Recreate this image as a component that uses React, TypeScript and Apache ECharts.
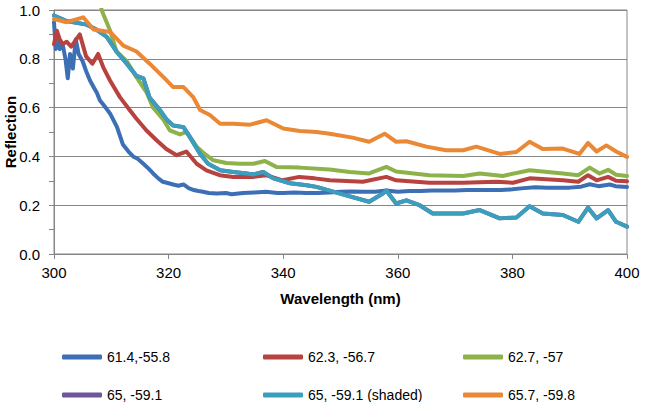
import React, { useEffect, useRef } from "react";
import * as echarts from "echarts";

const seriesNames = ["61.4,-55.8", "62.3, -56.7", "62.7, -57", "65, -59.1", "65, -59.1 (shaded)", "65.7, -59.8"];
const seriesColors = ["#3D6FB5", "#B8423F", "#8DB24A", "#6F559A", "#3A9EBD", "#EB8835"];

const xTicks = [300, 320, 340, 360, 380, 400];
const yTicks = [0, 0.2, 0.4, 0.6, 0.8, 1.0];
const yTitle = "Reflection";
const xTitle = "Wavelength (nm)";

const blueWl = [300, 300.3, 300.7, 301, 301.5, 302, 302.4, 302.8, 303.3, 303.8, 304.3, 305, 305.6, 306.3, 307, 307.5, 308, 309, 309.8, 311, 312, 313, 313.8, 314.6, 315.6, 316.5, 317.3, 318.2, 319, 320, 320.8, 321.7, 322.6, 323.5, 324.4, 325.2, 326, 327, 328.4, 330, 331, 333, 335, 337, 339, 340, 342, 344, 346, 348, 350, 352, 354, 356, 358, 360, 362, 364, 366, 368, 370, 372, 374, 376, 378, 380, 382, 384, 386, 388, 390, 392, 393.5, 395, 397, 398, 400];
const blueVal = [0.95, 0.84, 0.88, 0.84, 0.86, 0.8, 0.72, 0.82, 0.76, 0.88, 0.82, 0.79, 0.75, 0.71, 0.68, 0.66, 0.63, 0.6, 0.575, 0.52, 0.45, 0.42, 0.4, 0.39, 0.37, 0.35, 0.33, 0.31, 0.296, 0.29, 0.285, 0.28, 0.285, 0.27, 0.262, 0.258, 0.255, 0.25, 0.248, 0.25, 0.245, 0.25, 0.252, 0.255, 0.25, 0.25, 0.252, 0.25, 0.25, 0.252, 0.255, 0.256, 0.255, 0.255, 0.26, 0.255, 0.258, 0.258, 0.26, 0.26, 0.26, 0.262, 0.262, 0.262, 0.262, 0.265, 0.27, 0.274, 0.272, 0.272, 0.272, 0.276, 0.286, 0.278, 0.285, 0.278, 0.275];

const redWl = [300, 300.5, 301, 301.5, 302.2, 303, 304.5, 305.6, 306.7, 307.7, 308.6, 309.8, 311.5, 313.2, 314.4, 316.1, 317.9, 319.6, 321.4, 323.1, 324.9, 326.6, 328.9, 331.3, 334.7, 337, 339.9, 342.8, 345.5, 348.1, 353.9, 358, 359.7, 365.5, 371.4, 377.2, 380.1, 383, 388.8, 391.5, 393.2, 394.7, 396.7, 398.1, 400];
const redVal = [0.86, 0.915, 0.88, 0.86, 0.87, 0.85, 0.9, 0.81, 0.78, 0.82, 0.765, 0.71, 0.643, 0.59, 0.554, 0.507, 0.466, 0.43, 0.405, 0.42, 0.37, 0.343, 0.323, 0.316, 0.316, 0.323, 0.302, 0.316, 0.31, 0.302, 0.296, 0.316, 0.302, 0.292, 0.292, 0.296, 0.292, 0.31, 0.302, 0.296, 0.323, 0.302, 0.316, 0.3, 0.298];

const greenWl = [307.5, 308.3, 309.8, 310.9, 312.7, 314.4, 316.2, 317.3, 319.1, 320.2, 322, 323.1, 324.9, 326.3, 327.8, 330.1, 332.4, 334.8, 336.8, 338.8, 342.9, 348.1, 351.6, 355, 358, 359.7, 365.5, 371.4, 374.3, 378.3, 383, 388.8, 391.5, 393.5, 395.2, 396.7, 398.1, 400];
const greenVal = [1.15, 1.0, 0.915, 0.83, 0.79, 0.725, 0.66, 0.6, 0.55, 0.507, 0.49, 0.5, 0.44, 0.41, 0.384, 0.373, 0.37, 0.37, 0.381, 0.357, 0.354, 0.346, 0.336, 0.33, 0.357, 0.338, 0.323, 0.32, 0.33, 0.32, 0.343, 0.33, 0.323, 0.354, 0.33, 0.345, 0.325, 0.32];

const tealWl = [300, 302.2, 305.7, 307.4, 309.2, 310.9, 312.7, 314.4, 315.6, 316.7, 318.5, 319.7, 320.8, 322.6, 323.7, 325.5, 326.9, 329, 331.3, 333.6, 334.8, 336.5, 338.3, 341.2, 344.1, 345.8, 348.1, 351, 355, 357.4, 358, 359.7, 361.5, 363.8, 366.1, 371.4, 374.3, 377.8, 380.7, 383, 385.3, 388.8, 391.5, 393.2, 394.7, 396.7, 398.1, 400];
const tealVal = [0.977, 0.955, 0.94, 0.92, 0.89, 0.83, 0.78, 0.73, 0.72, 0.64, 0.59, 0.55, 0.527, 0.52, 0.48, 0.41, 0.37, 0.343, 0.336, 0.33, 0.326, 0.336, 0.31, 0.29, 0.282, 0.275, 0.26, 0.24, 0.214, 0.248, 0.26, 0.207, 0.22, 0.2, 0.166, 0.166, 0.18, 0.146, 0.15, 0.196, 0.166, 0.16, 0.132, 0.19, 0.146, 0.18, 0.132, 0.112];

const orangeWl = [300, 302.2, 305.1, 306.9, 309.8, 312.1, 314.4, 316.7, 319.1, 320.8, 322.6, 324.3, 325.5, 327.2, 329, 331.3, 334.2, 337.1, 340, 342.9, 345.8, 348.1, 352.1, 355, 357.7, 359.7, 361.5, 365, 368.4, 371.4, 373.7, 377.8, 380.7, 383, 385.3, 388.8, 391.7, 393.2, 394.7, 396.4, 398.1, 400];
const orangeVal = [0.963, 0.95, 0.97, 0.92, 0.91, 0.854, 0.83, 0.78, 0.725, 0.684, 0.684, 0.643, 0.59, 0.57, 0.534, 0.534, 0.53, 0.548, 0.514, 0.504, 0.5, 0.493, 0.477, 0.46, 0.493, 0.46, 0.462, 0.44, 0.425, 0.425, 0.44, 0.41, 0.418, 0.46, 0.43, 0.432, 0.41, 0.455, 0.42, 0.445, 0.42, 0.398];

// the unshaded "65, -59.1" curve lies under the shaded one
const seriesWl = [blueWl, redWl, greenWl, tealWl, tealWl, orangeWl];
const seriesVal = [blueVal, redVal, greenVal, tealVal, tealVal, orangeVal];

const legendLeft = [57, 258, 458, 57, 258, 458];
const legendTop = [344, 344, 344, 382, 382, 382];

export default function App() {
  const ref = useRef<HTMLDivElement>(null);
  useEffect(() => {
    if (!ref.current) return;
    const chart = echarts.init(ref.current, null, { renderer: "svg" });
    const font = "'Liberation Sans', Arial, sans-serif";
    const gray = "#868686";
    chart.setOption({
      animation: false,
      textStyle: { fontFamily: font },
      grid: {
        left: 54, right: 36, top: 10, bottom: 148,
        show: true, borderColor: gray, borderWidth: 1,
        containLabel: false, outerBoundsMode: "none",
      },
      graphic: [
        {
          type: "text",
          x: 10,
          y: 132,
          rotation: Math.PI / 2,
          style: {
            text: yTitle,
            fontSize: 15,
            fontWeight: "bold",
            fontFamily: font,
            fill: "#000",
            align: "center",
            verticalAlign: "middle",
          },
        },
      ],
      legend: seriesNames.map((n, i) => ({
        data: [n],
        left: legendLeft[i],
        top: legendTop[i],
        icon: "roundRect",
        itemWidth: 40,
        itemHeight: 5,
        selectedMode: false,
        textStyle: { fontSize: 14, color: "#000", fontFamily: font, lineHeight: 16 },
      })),
      xAxis: {
        type: "value",
        min: xTicks[0],
        max: xTicks[xTicks.length - 1],
        interval: 20,
        name: xTitle,
        nameLocation: "middle",
        nameGap: 37,
        nameTextStyle: { fontSize: 15, fontWeight: "bold", color: "#000" },
        axisLine: { lineStyle: { color: gray } },
        axisTick: { show: true, inside: false, length: 5, lineStyle: { color: gray } },
        axisLabel: { fontSize: 15, color: "#000", margin: 11 },
        splitLine: { show: false },
      },
      yAxis: {
        type: "value",
        min: yTicks[0],
        max: yTicks[yTicks.length - 1],
        interval: 0.2,
        axisLine: { show: true, lineStyle: { color: gray } },
        axisTick: { show: true, inside: false, length: 5, lineStyle: { color: gray } },
        minorTick: { show: true, splitNumber: 2, length: 5, lineStyle: { color: gray } },
        axisLabel: { fontSize: 15, color: "#000", margin: 14, formatter: (v: number) => v.toFixed(1) },
        splitLine: { show: true, lineStyle: { color: gray, width: 1 } },
      },
      series: seriesNames.map((n, i) => ({
        name: n,
        type: "line",
        data: seriesWl[i].map((w, j) => [w, seriesVal[i][j]]),
        showSymbol: false,
        symbol: "none",
        clip: true,
        color: seriesColors[i],
        lineStyle: { width: 4, color: seriesColors[i], cap: "round", join: "round" },
      })),
    });
    return () => chart.dispose();
  }, []);
  return <div ref={ref} style={{ position: "fixed", left: 0, top: 0, width: 663, height: 402, background: "#fff" }} />;
}
